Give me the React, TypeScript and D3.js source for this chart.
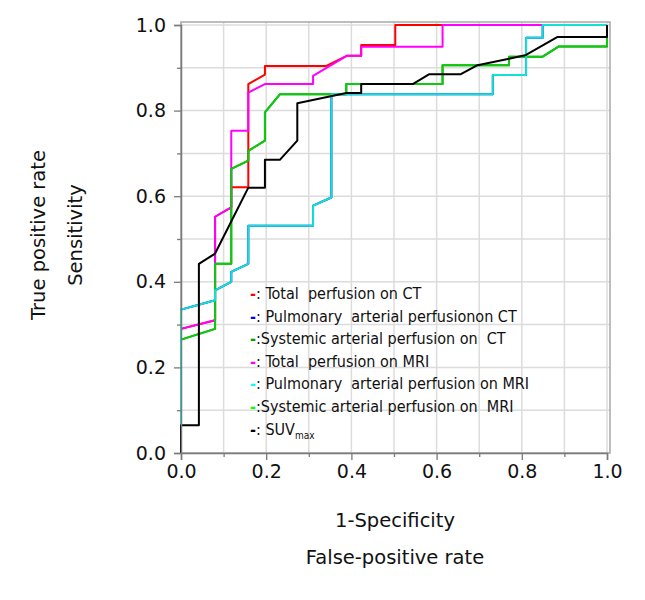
import React, { useEffect, useRef } from "react";
import * as d3 from "d3";

type Pt = [number, number]; // [1-specificity, sensitivity]

// ROC curves
const totalCT: Pt[] = [
  [0, 0], [0, 0.29], [0.08, 0.31], [0.08, 0.552], [0.118, 0.574], [0.118, 0.621],
  [0.158, 0.621], [0.158, 0.862], [0.197, 0.884], [0.197, 0.904], [0.34, 0.904],
  [0.389, 0.928], [0.423, 0.928], [0.423, 0.953], [0.503, 0.953], [0.503, 1], [1, 1],
];
const pulmonaryCT: Pt[] = [
  [0, 0], [0, 0.335], [0.08, 0.357], [0.08, 0.38], [0.118, 0.4], [0.118, 0.423],
  [0.158, 0.442], [0.158, 0.531], [0.31, 0.531], [0.31, 0.578], [0.353, 0.597],
  [0.353, 0.838], [0.732, 0.838], [0.732, 0.883], [0.81, 0.883], [0.81, 0.97],
  [0.849, 0.97], [0.849, 1], [1, 1],
];
const systemicCT: Pt[] = [
  [0, 0], [0, 0.265], [0.08, 0.29], [0.08, 0.442], [0.118, 0.442], [0.118, 0.664],
  [0.158, 0.683], [0.158, 0.706], [0.197, 0.73], [0.197, 0.796], [0.232, 0.838],
  [0.388, 0.838], [0.388, 0.862], [0.614, 0.862], [0.614, 0.906], [0.77, 0.906],
  [0.77, 0.926], [0.849, 0.926], [0.887, 0.95], [1, 0.95], [1, 1],
];
const totalMRI: Pt[] = [
  [0, 0], [0, 0.29], [0.08, 0.31], [0.08, 0.552], [0.118, 0.574], [0.118, 0.753],
  [0.158, 0.753], [0.158, 0.842], [0.197, 0.862], [0.31, 0.862], [0.31, 0.881],
  [0.389, 0.928], [0.423, 0.928], [0.423, 0.949], [0.614, 0.949], [0.614, 1], [1, 1],
];
const pulmonaryMRI: Pt[] = [
  [0, 0], [0, 0.335], [0.08, 0.357], [0.08, 0.38], [0.118, 0.4], [0.118, 0.423],
  [0.158, 0.442], [0.158, 0.531], [0.31, 0.531], [0.31, 0.578], [0.353, 0.597],
  [0.353, 0.838], [0.732, 0.838], [0.732, 0.883], [0.81, 0.883], [0.81, 0.97],
  [0.849, 0.97], [0.849, 1], [1, 1],
];
const systemicMRI: Pt[] = [
  [0, 0], [0, 0.265], [0.08, 0.29], [0.08, 0.442], [0.118, 0.442], [0.118, 0.664],
  [0.158, 0.683], [0.158, 0.706], [0.197, 0.73], [0.197, 0.796], [0.232, 0.838],
  [0.388, 0.838], [0.388, 0.862], [0.614, 0.862], [0.614, 0.906], [0.77, 0.906],
  [0.77, 0.926], [0.849, 0.926], [0.887, 0.95], [1, 0.95], [1, 1],
];
const suvMax: Pt[] = [
  [0, 0], [0, 0.065], [0.042, 0.065], [0.042, 0.442], [0.08, 0.466], [0.158, 0.62],
  [0.197, 0.62], [0.197, 0.685], [0.232, 0.685], [0.273, 0.73], [0.273, 0.817],
  [0.388, 0.841], [0.423, 0.841], [0.423, 0.862], [0.544, 0.862], [0.583, 0.885],
  [0.657, 0.885], [0.696, 0.906], [0.77, 0.921], [0.81, 0.93], [0.884, 0.972],
  [1, 0.972], [1, 1],
];

const legendLabels = [
  " Total  perfusion on CT",
  " Pulmonary  arterial perfusionon CT",
  "Systemic arterial perfusion on  CT",
  " Total  perfusion on MRI",
  " Pulmonary  arterial perfusion on MRI",
  "Systemic arterial perfusion on  MRI",
  " SUV",
];
const legendColors = ["#ff0000", "#0000ff", "#00a000", "#ff00ff", "#00ffff", "#00ff00", "#000000"];
const xTicks = [0, 0.2, 0.4, 0.6, 0.8, 1.0];
const yTicks = [0, 0.2, 0.4, 0.6, 0.8, 1.0];
const minorTicks = [0.1, 0.3, 0.5, 0.7, 0.9];
const gridTicks = d3.range(0, 11).map((i) => i / 10);

const FONT = "'DejaVu Sans', Verdana, sans-serif";
const LEG_FONT = "'DejaVu Sans Condensed', 'DejaVu Sans', sans-serif";

const App: React.FC = () => {
  const svgRef = useRef<SVGSVGElement | null>(null);

  useEffect(() => {
    const svg = d3.select(svgRef.current);
    svg.selectAll("*").remove();

    const x = d3.scaleLinear().domain([0, 1]).range([181, 607]);
    const y = d3.scaleLinear().domain([0, 1]).range([453, 25]);

    // gridlines
    const grid = svg.append("g");
    grid
      .selectAll("line.v")
      .data(gridTicks)
      .enter()
      .append("line")
      .attr("x1", (d) => x(d))
      .attr("x2", (d) => x(d))
      .attr("y1", 22)
      .attr("y2", 453)
      .attr("stroke", "#dcdcdc")
      .attr("stroke-width", 1.5);
    grid
      .selectAll("line.h")
      .data(gridTicks)
      .enter()
      .append("line")
      .attr("x1", 181)
      .attr("x2", 610)
      .attr("y1", (d) => y(d))
      .attr("y2", (d) => y(d))
      .attr("stroke", "#dcdcdc")
      .attr("stroke-width", 1.5);

    // frame
    svg
      .append("rect")
      .attr("x", 181)
      .attr("y", 22)
      .attr("width", 429)
      .attr("height", 431)
      .attr("fill", "none")
      .attr("stroke", "#a8a8a8")
      .attr("stroke-width", 1.5);

    // curves, bottom to top
    const line = d3
      .line<Pt>()
      .x((d) => x(d[0]))
      .y((d) => y(d[1]));
    const curves: [Pt[], string][] = [
      [pulmonaryCT, legendColors[1]],
      [systemicCT, legendColors[2]],
      [totalCT, legendColors[0]],
      [totalMRI, legendColors[3]],
      [systemicMRI, "#10c810"],
      [pulmonaryMRI, "#12e2d4"],
      [suvMax, legendColors[6]],
    ];
    svg
      .append("g")
      .selectAll("path")
      .data(curves)
      .enter()
      .append("path")
      .attr("d", (d) => line(d[0]))
      .attr("fill", "none")
      .attr("stroke", (d) => d[1])
      .attr("stroke-width", 2)
      .attr("stroke-linejoin", "round");

    // axes
    const yAxis = svg
      .append("g")
      .attr("transform", "translate(181,0)")
      .call(d3.axisLeft(y).tickValues(yTicks).tickFormat(d3.format(".1f")).tickSize(7).tickPadding(8));
    const xAxis = svg
      .append("g")
      .attr("transform", "translate(0,453)")
      .call(d3.axisBottom(x).tickValues(xTicks).tickFormat(d3.format(".1f")).tickSize(7).tickPadding(5));
    // minor ticks
    svg
      .append("g")
      .attr("transform", "translate(181,0)")
      .call(d3.axisLeft(y).tickValues(minorTicks).tickFormat(() => "").tickSize(4))
      .select(".domain")
      .remove();
    svg
      .append("g")
      .attr("transform", "translate(0,453)")
      .call(d3.axisBottom(x).tickValues(minorTicks).tickFormat(() => "").tickSize(4))
      .select(".domain")
      .remove();
    svg.selectAll(".domain").attr("stroke", "#7a7a7a").attr("stroke-width", 1.5);
    svg.selectAll(".tick line").attr("stroke", "#7a7a7a").attr("stroke-width", 1.3);
    [yAxis, xAxis].forEach((a) =>
      a.selectAll("text").attr("font-family", FONT).attr("font-size", 19).attr("fill", "#111")
    );

    // axis titles
    const title = (t: string, tx: number, ty: number, rot = 0) =>
      svg
        .append("text")
        .attr("transform", `translate(${tx},${ty}) rotate(${rot})`)
        .attr("text-anchor", "middle")
        .attr("font-family", FONT)
        .attr("font-size", 19.5)
        .attr("fill", "#111")
        .text(t);
    title("1-Specificity", 395, 527);
    title("False-positive rate", 395, 564);
    title("True positive rate", 45, 235, -90);
    title("Sensitivity", 82, 235, -90);

    // legend
    const leg = svg
      .append("g")
      .selectAll("text")
      .data(legendLabels)
      .enter()
      .append("text")
      .attr("x", 250)
      .attr("y", (d, i) => 299 + i * 22.6)
      .attr("font-family", LEG_FONT)
      .attr("font-size", 16)
      .attr("fill", "#111")
      .style("white-space", "pre");
    leg
      .append("tspan")
      .attr("fill", (d, i) => legendColors[i])
      .attr("font-weight", "bold")
      .text("-");
    leg.append("tspan").text(":");
    leg.append("tspan").text((d) => d);
    leg
      .filter((d, i) => i === legendLabels.length - 1)
      .append("tspan")
      .attr("font-size", 10)
      .attr("dy", 4)
      .text("max");
  }, []);

  return (
    <svg
      ref={svgRef}
      width={645}
      height={600}
      style={{ position: "absolute", left: 0, top: 0, background: "#fff" }}
    />
  );
};

export default App;
